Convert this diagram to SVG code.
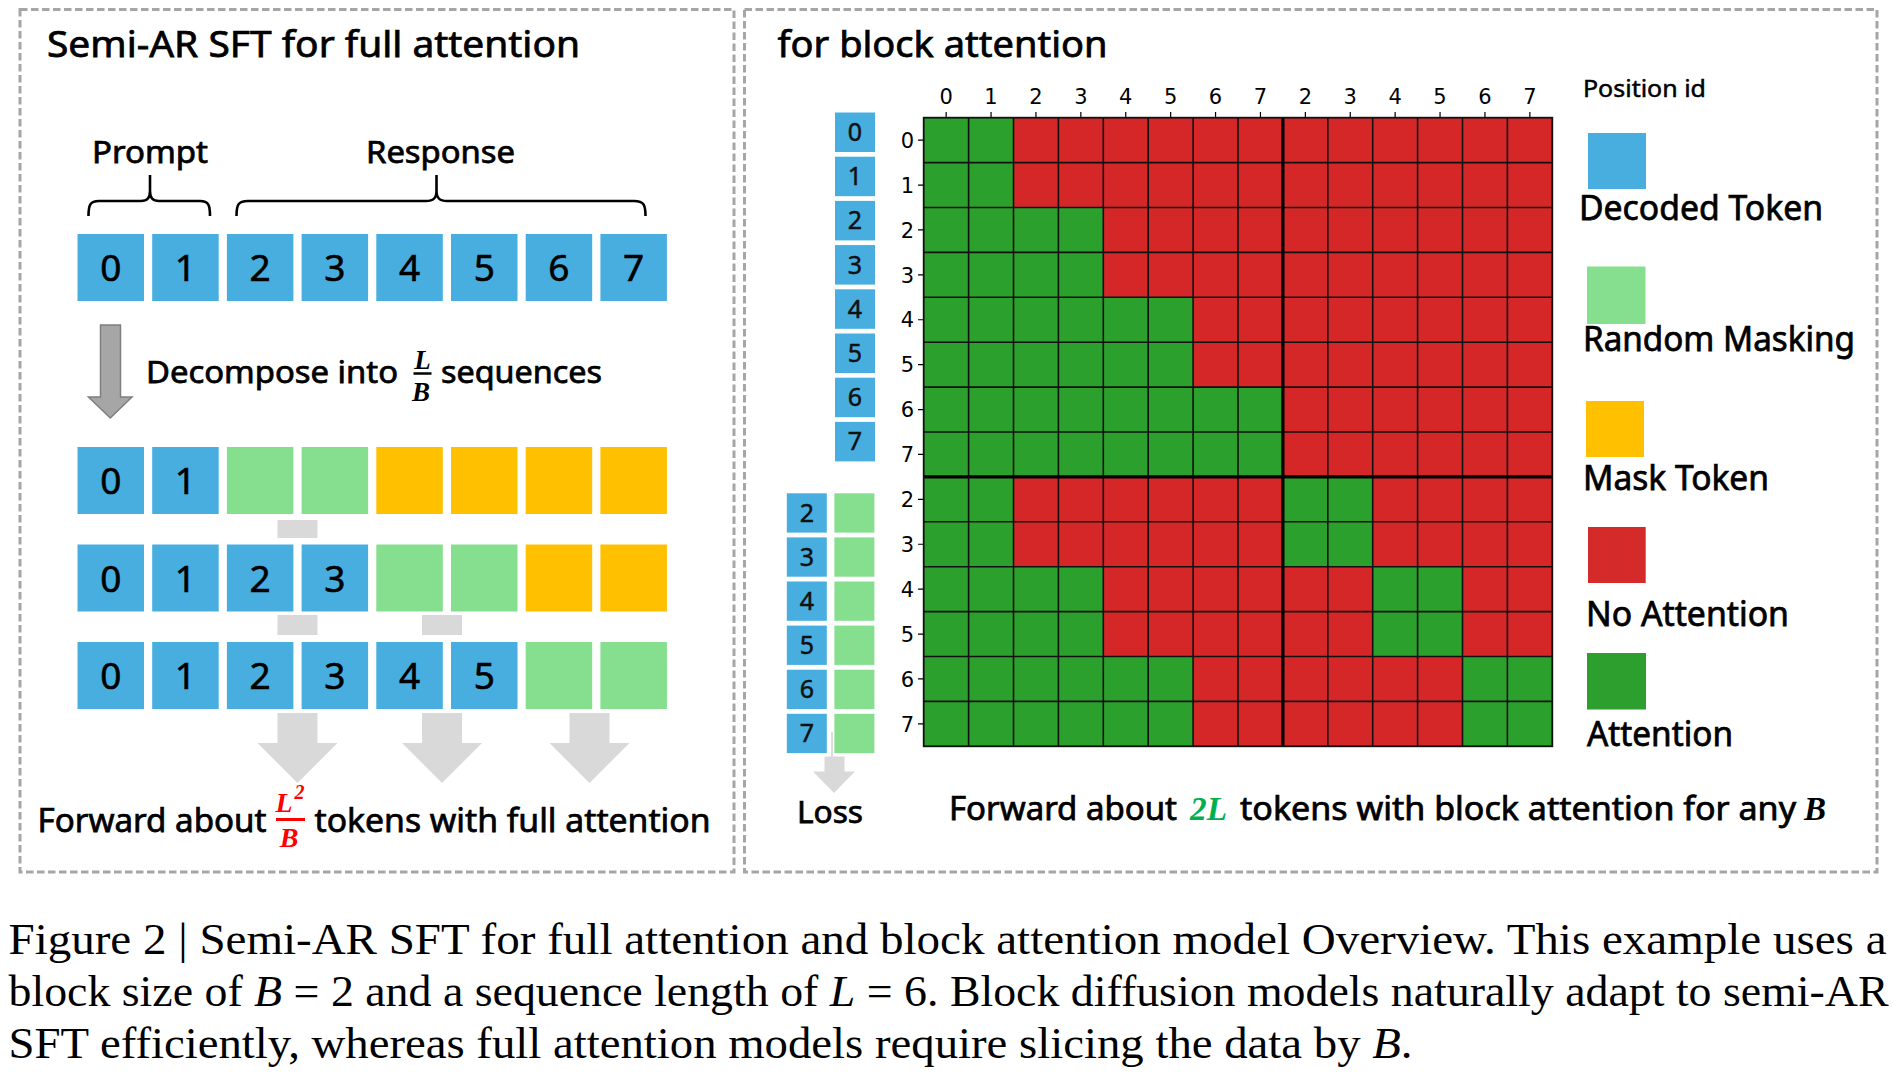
<svg xmlns="http://www.w3.org/2000/svg" width="1893" height="1076" viewBox="0 0 1893 1076">
<style>
.panel{fill:none;stroke:#A6A6A6;stroke-width:3;stroke-dasharray:7.5 3.5}
.tb{fill:#48AEDF}
.tg{fill:#86DF8E}
.to{fill:#FFC000}
.gy{fill:#D9D9D9}
.sans{font-family:"Noto Sans","Open Sans","Liberation Sans",sans-serif;fill:#000;stroke:#000;stroke-width:0.75}
.dig{font-family:"Noto Sans","Open Sans","Liberation Sans",sans-serif;font-size:37px;text-anchor:middle;fill:#000;stroke:#000;stroke-width:0.6}
.sdig{font-family:"Noto Sans","Open Sans","Liberation Sans",sans-serif;font-size:25px;text-anchor:middle;fill:#111;stroke:#111;stroke-width:0.5}
.tick{font-family:"DejaVu Sans",sans-serif;font-size:21px;fill:#000}
.math{font-family:"Liberation Serif","DejaVu Serif",serif;font-style:italic;font-weight:bold}
.cap{font-family:"Liberation Serif","DejaVu Serif",serif;font-size:45px;fill:#000}
.red{fill:#D62728}
.grn{fill:#2CA02C}
</style>

<!-- panels -->
<g id="panel-left"><rect class="panel" x="20" y="9.5" width="714" height="862.5"/></g>
<g id="panel-right"><rect class="panel" x="744.5" y="9.5" width="1132.5" height="862.5"/></g>

<!-- titles -->
<g id="title-left"><text class="sans" x="47" y="57" font-size="37" textLength="533" lengthAdjust="spacingAndGlyphs">Semi-AR SFT for full attention</text></g>
<g id="title-right"><text class="sans" x="777.5" y="57" font-size="37" textLength="330" lengthAdjust="spacingAndGlyphs">for block attention</text></g>

<g id="label-prompt"><text class="sans" x="92" y="163" font-size="31" textLength="116" lengthAdjust="spacingAndGlyphs">Prompt</text></g>
<g id="label-response"><text class="sans" x="366" y="163" font-size="31" textLength="149" lengthAdjust="spacingAndGlyphs">Response</text></g>

<!-- token row 1 -->
<g id="seq-full">
<g id="r1-0"><rect class="tb" x="77.5" y="234" width="66.5" height="67"/><text class="dig" x="110.75" y="281">0</text></g>
<g id="r1-1"><rect class="tb" x="152.2" y="234" width="66.5" height="67"/><text class="dig" x="185.45" y="281">1</text></g>
<g id="r1-2"><rect class="tb" x="226.9" y="234" width="66.5" height="67"/><text class="dig" x="260.15" y="281">2</text></g>
<g id="r1-3"><rect class="tb" x="301.6" y="234" width="66.5" height="67"/><text class="dig" x="334.85" y="281">3</text></g>
<g id="r1-4"><rect class="tb" x="376.3" y="234" width="66.5" height="67"/><text class="dig" x="409.55" y="281">4</text></g>
<g id="r1-5"><rect class="tb" x="451" y="234" width="66.5" height="67"/><text class="dig" x="484.25" y="281">5</text></g>
<g id="r1-6"><rect class="tb" x="525.7" y="234" width="66.5" height="67"/><text class="dig" x="558.95" y="281">6</text></g>
<g id="r1-7"><rect class="tb" x="600.4" y="234" width="66.5" height="67"/><text class="dig" x="633.65" y="281">7</text></g>
</g>

<g id="label-decompose">
<text class="sans" x="146" y="383" font-size="31" textLength="252" lengthAdjust="spacingAndGlyphs">Decompose into</text>
<text class="math" x="422.5" y="368.5" font-size="27" text-anchor="middle">L</text>
<line x1="413.5" y1="373.5" x2="431.5" y2="373.5" stroke="#000" stroke-width="2.5"/>
<text class="math" x="421" y="400.5" font-size="27" text-anchor="middle">B</text>
<text class="sans" x="441" y="383" font-size="31" textLength="161" lengthAdjust="spacingAndGlyphs">sequences</text>
</g>

<!-- decomposed rows -->
<g id="seq-a">
<g id="r2-0"><rect class="tb" x="77.5" y="447" width="66.5" height="67"/><text class="dig" x="110.75" y="494">0</text></g>
<g id="r2-1"><rect class="tb" x="152.2" y="447" width="66.5" height="67"/><text class="dig" x="185.45" y="494">1</text></g>
<g id="r2-2"><rect class="tg" x="226.9" y="447" width="66.5" height="67"/></g>
<g id="r2-3"><rect class="tg" x="301.6" y="447" width="66.5" height="67"/></g>
<g id="r2-4"><rect class="to" x="376.3" y="447" width="66.5" height="67"/></g>
<g id="r2-5"><rect class="to" x="451" y="447" width="66.5" height="67"/></g>
<g id="r2-6"><rect class="to" x="525.7" y="447" width="66.5" height="67"/></g>
<g id="r2-7"><rect class="to" x="600.4" y="447" width="66.5" height="67"/></g>
</g>
<g id="seq-b">
<g id="r3-0"><rect class="tb" x="77.5" y="544.5" width="66.5" height="67"/><text class="dig" x="110.75" y="591.5">0</text></g>
<g id="r3-1"><rect class="tb" x="152.2" y="544.5" width="66.5" height="67"/><text class="dig" x="185.45" y="591.5">1</text></g>
<g id="r3-2"><rect class="tb" x="226.9" y="544.5" width="66.5" height="67"/><text class="dig" x="260.15" y="591.5">2</text></g>
<g id="r3-3"><rect class="tb" x="301.6" y="544.5" width="66.5" height="67"/><text class="dig" x="334.85" y="591.5">3</text></g>
<g id="r3-4"><rect class="tg" x="376.3" y="544.5" width="66.5" height="67"/></g>
<g id="r3-5"><rect class="tg" x="451" y="544.5" width="66.5" height="67"/></g>
<g id="r3-6"><rect class="to" x="525.7" y="544.5" width="66.5" height="67"/></g>
<g id="r3-7"><rect class="to" x="600.4" y="544.5" width="66.5" height="67"/></g>
</g>
<g id="seq-c">
<g id="r4-0"><rect class="tb" x="77.5" y="642" width="66.5" height="67"/><text class="dig" x="110.75" y="689">0</text></g>
<g id="r4-1"><rect class="tb" x="152.2" y="642" width="66.5" height="67"/><text class="dig" x="185.45" y="689">1</text></g>
<g id="r4-2"><rect class="tb" x="226.9" y="642" width="66.5" height="67"/><text class="dig" x="260.15" y="689">2</text></g>
<g id="r4-3"><rect class="tb" x="301.6" y="642" width="66.5" height="67"/><text class="dig" x="334.85" y="689">3</text></g>
<g id="r4-4"><rect class="tb" x="376.3" y="642" width="66.5" height="67"/><text class="dig" x="409.55" y="689">4</text></g>
<g id="r4-5"><rect class="tb" x="451" y="642" width="66.5" height="67"/><text class="dig" x="484.25" y="689">5</text></g>
<g id="r4-6"><rect class="tg" x="525.7" y="642" width="66.5" height="67"/></g>
<g id="r4-7"><rect class="tg" x="600.4" y="642" width="66.5" height="67"/></g>
</g>

<g id="label-forward-left">
<text class="sans" x="37.5" y="832" font-size="33" textLength="229" lengthAdjust="spacingAndGlyphs">Forward about</text>
<text class="math" x="284" y="812" font-size="28" text-anchor="middle" fill="#FF0000">L</text>
<text class="math" x="299.5" y="799" font-size="20" text-anchor="middle" fill="#FF0000" font-style="normal">2</text>
<line x1="276" y1="819.5" x2="305" y2="819.5" stroke="#FF0000" stroke-width="3"/>
<text class="math" x="289" y="847" font-size="28" text-anchor="middle" fill="#FF0000">B</text>
<text class="sans" x="314.5" y="832" font-size="33" textLength="396" lengthAdjust="spacingAndGlyphs">tokens with full attention</text>
</g>

<!-- right panel: query tokens -->
<g id="query-tokens">
<g id="q-0"><rect class="tb" x="835" y="112.5" width="40" height="39.5"/><text class="sdig" x="855" y="141">0</text></g>
<g id="q-1"><rect class="tb" x="835" y="156.7" width="40" height="39.5"/><text class="sdig" x="855" y="185.2">1</text></g>
<g id="q-2"><rect class="tb" x="835" y="200.9" width="40" height="39.5"/><text class="sdig" x="855" y="229.4">2</text></g>
<g id="q-3"><rect class="tb" x="835" y="245.1" width="40" height="39.5"/><text class="sdig" x="855" y="273.6">3</text></g>
<g id="q-4"><rect class="tb" x="835" y="289.3" width="40" height="39.5"/><text class="sdig" x="855" y="317.8">4</text></g>
<g id="q-5"><rect class="tb" x="835" y="333.5" width="40" height="39.5"/><text class="sdig" x="855" y="362">5</text></g>
<g id="q-6"><rect class="tb" x="835" y="377.7" width="40" height="39.5"/><text class="sdig" x="855" y="406.2">6</text></g>
<g id="q-7"><rect class="tb" x="835" y="421.9" width="40" height="39.5"/><text class="sdig" x="855" y="450.4">7</text></g>
</g>
<g id="noisy-tokens">
<g id="n-2"><rect class="tb" x="786.8" y="493.3" width="40" height="39.3"/><rect class="tg" x="834.4" y="493.3" width="40" height="39.3"/><text class="sdig" x="806.8" y="521.7">2</text></g>
<g id="n-3"><rect class="tb" x="786.8" y="537.4" width="40" height="39.3"/><rect class="tg" x="834.4" y="537.4" width="40" height="39.3"/><text class="sdig" x="806.8" y="565.8">3</text></g>
<g id="n-4"><rect class="tb" x="786.8" y="581.5" width="40" height="39.3"/><rect class="tg" x="834.4" y="581.5" width="40" height="39.3"/><text class="sdig" x="806.8" y="609.9">4</text></g>
<g id="n-5"><rect class="tb" x="786.8" y="625.6" width="40" height="39.3"/><rect class="tg" x="834.4" y="625.6" width="40" height="39.3"/><text class="sdig" x="806.8" y="654">5</text></g>
<g id="n-6"><rect class="tb" x="786.8" y="669.7" width="40" height="39.3"/><rect class="tg" x="834.4" y="669.7" width="40" height="39.3"/><text class="sdig" x="806.8" y="698.1">6</text></g>
<g id="n-7"><rect class="tb" x="786.8" y="713.8" width="40" height="39.3"/><rect class="tg" x="834.4" y="713.8" width="40" height="39.3"/><text class="sdig" x="806.8" y="742.2">7</text></g>
</g>
<g id="label-loss"><text class="sans" x="797" y="822.7" font-size="31" textLength="66" lengthAdjust="spacingAndGlyphs">Loss</text></g>

<!-- attention mask grid -->
<g id="mask-grid">
<rect class="red" x="923.7" y="117.7" width="628.6" height="628.6"/>
<rect class="grn" x="923.7" y="117.7" width="89.8" height="89.8"/>
<rect class="grn" x="923.7" y="207.5" width="179.6" height="89.8"/>
<rect class="grn" x="923.7" y="297.3" width="269.4" height="89.8"/>
<rect class="grn" x="923.7" y="387.1" width="359.2" height="89.8"/>
<rect class="grn" x="923.7" y="476.9" width="89.8" height="89.8"/>
<rect class="grn" x="1282.9" y="476.9" width="89.8" height="89.8"/>
<rect class="grn" x="923.7" y="566.7" width="179.6" height="89.8"/>
<rect class="grn" x="1372.7" y="566.7" width="89.8" height="89.8"/>
<rect class="grn" x="923.7" y="656.5" width="269.4" height="89.8"/>
<rect class="grn" x="1462.5" y="656.5" width="89.8" height="89.8"/>
<path fill="none" stroke="#111" stroke-width="1.6" d="M923.7 162.6H1552.3M923.7 207.5H1552.3M923.7 252.4H1552.3M923.7 297.3H1552.3M923.7 342.2H1552.3M923.7 387.1H1552.3M923.7 432H1552.3M923.7 521.8H1552.3M923.7 566.7H1552.3M923.7 611.6H1552.3M923.7 656.5H1552.3M923.7 701.4H1552.3M968.6 117.7V746.3M1013.5 117.7V746.3M1058.4 117.7V746.3M1103.3 117.7V746.3M1148.2 117.7V746.3M1193.1 117.7V746.3M1238 117.7V746.3M1327.8 117.7V746.3M1372.7 117.7V746.3M1417.6 117.7V746.3M1462.5 117.7V746.3M1507.4 117.7V746.3"/>
<path fill="none" stroke="#000" stroke-width="3.2" d="M923.7 476.9H1552.3M1282.9 117.7V746.3"/>
<rect x="923.7" y="117.7" width="628.6" height="628.6" fill="none" stroke="#111" stroke-width="1.8"/>
<path fill="none" stroke="#000" stroke-width="1.2" d="M946.15 112V117.7M991.05 112V117.7M1035.95 112V117.7M1080.85 112V117.7M1125.75 112V117.7M1170.65 112V117.7M1215.55 112V117.7M1260.45 112V117.7M1305.35 112V117.7M1350.25 112V117.7M1395.15 112V117.7M1440.05 112V117.7M1484.95 112V117.7M1529.85 112V117.7M918 140.15H923.7M918 185.05H923.7M918 229.95H923.7M918 274.85H923.7M918 319.75H923.7M918 364.65H923.7M918 409.55H923.7M918 454.45H923.7M918 499.35H923.7M918 544.25H923.7M918 589.15H923.7M918 634.05H923.7M918 678.95H923.7M918 723.85H923.7"/>
<g class="tick" text-anchor="middle">
<text x="946.15" y="103.5">0</text><text x="991.05" y="103.5">1</text><text x="1035.95" y="103.5">2</text><text x="1080.85" y="103.5">3</text><text x="1125.75" y="103.5">4</text><text x="1170.65" y="103.5">5</text><text x="1215.55" y="103.5">6</text><text x="1260.45" y="103.5">7</text><text x="1305.35" y="103.5">2</text><text x="1350.25" y="103.5">3</text><text x="1395.15" y="103.5">4</text><text x="1440.05" y="103.5">5</text><text x="1484.95" y="103.5">6</text><text x="1529.85" y="103.5">7</text>
</g>
<g class="tick" text-anchor="end">
<text x="914" y="147.8">0</text><text x="914" y="192.7">1</text><text x="914" y="237.6">2</text><text x="914" y="282.5">3</text><text x="914" y="327.4">4</text><text x="914" y="372.3">5</text><text x="914" y="417.2">6</text><text x="914" y="462.1">7</text><text x="914" y="507">2</text><text x="914" y="551.9">3</text><text x="914" y="596.8">4</text><text x="914" y="641.7">5</text><text x="914" y="686.6">6</text><text x="914" y="731.5">7</text>
</g>
</g>

<g id="label-forward-right">
<text class="sans" x="949" y="820" font-size="32" textLength="228" lengthAdjust="spacingAndGlyphs">Forward about</text>
<text class="math" x="1190" y="820" font-size="33" fill="#00B050" textLength="37" lengthAdjust="spacingAndGlyphs">2L</text>
<text class="sans" x="1240" y="820" font-size="32" textLength="556" lengthAdjust="spacingAndGlyphs">tokens with block attention for any</text>
<text class="math" x="1804" y="820" font-size="33" fill="#000">B</text>
</g>

<!-- legend -->
<g id="legend">
<g id="legend-title"><text class="sans" x="1583" y="96.5" font-size="24" textLength="123" lengthAdjust="spacingAndGlyphs" style="stroke-width:0.5">Position id</text></g>
<g id="legend-decoded"><rect class="tb" x="1588" y="133" width="58" height="56"/><text class="sans" x="1579" y="220" font-size="34" textLength="244" lengthAdjust="spacingAndGlyphs">Decoded Token</text></g>
<g id="legend-random"><rect class="tg" x="1587" y="266.5" width="58.5" height="57.5"/><text class="sans" x="1583" y="350.5" font-size="34" textLength="272" lengthAdjust="spacingAndGlyphs">Random Masking</text></g>
<g id="legend-mask"><rect class="to" x="1586" y="401" width="58" height="56"/><text class="sans" x="1583" y="489.6" font-size="34" textLength="186" lengthAdjust="spacingAndGlyphs">Mask Token</text></g>
<g id="legend-noattn"><rect x="1588" y="527" width="57.7" height="56" fill="#D42A2A"/><text class="sans" x="1586" y="625.5" font-size="34" textLength="203" lengthAdjust="spacingAndGlyphs">No Attention</text></g>
<g id="legend-attn"><rect x="1587" y="653" width="59" height="56.5" fill="#2C9F2E"/><text class="sans" x="1587" y="746" font-size="34" textLength="146" lengthAdjust="spacingAndGlyphs">Attention</text></g>
</g>

<!-- connectors -->
<g id="connectors">
<path fill="none" stroke="#000" stroke-width="2.6" d="M88.5 216C88.5 205 90 201 99 201L141 201C147.5 201 150 198 150 191L150 175M150 191C150 198 152.5 201 159 201L200 201C208.5 201 210 205 210 216"/>
<path fill="none" stroke="#000" stroke-width="2.6" d="M236.5 216C236.5 205 238 201 248 201L426 201C433.5 201 436.5 198 436.5 191L436.5 175M436.5 191C436.5 198 439.5 201 447 201L634 201C644 201 645.5 205 645.5 216"/>
<polygon points="100.5,325 120.5,325 120.5,397 132,397 110.3,418 88.5,397 100.5,397" fill="#A6A6A6" stroke="#7F7F7F" stroke-width="1.5"/>
<rect class="gy" x="277.5" y="520" width="40" height="18"/>
<rect class="gy" x="277.5" y="615" width="40" height="20"/>
<rect class="gy" x="422" y="615" width="40" height="20"/>
<polygon class="gy" points="277.5,713 317.5,713 317.5,743 337.5,743 297.5,783 257.5,743 277.5,743"/>
<polygon class="gy" points="422,713 462,713 462,743 482,743 442,783 402,743 422,743"/>
<polygon class="gy" points="569.5,713 609.5,713 609.5,743 629.5,743 589.5,783 549.5,743 569.5,743"/>
<line x1="832" y1="732" x2="832" y2="757" stroke="#C8C8C8" stroke-width="1.2"/>
<polygon class="gy" points="824.5,756.5 844.5,756.5 844.5,771.5 855,771.5 834,793 813,771.5 824.5,771.5"/>
</g>

<!-- caption -->
<g id="caption">
<text class="cap" x="8.5" y="953.5" textLength="1878" lengthAdjust="spacingAndGlyphs">Figure 2 | Semi-AR SFT for full attention and block attention model Overview. This example uses a</text>
<text class="cap" x="8.5" y="1006" textLength="1880" lengthAdjust="spacingAndGlyphs">block size of <tspan font-style="italic">B</tspan> = 2 and a sequence length of <tspan font-style="italic">L</tspan> = 6. Block diffusion models naturally adapt to semi-AR</text>
<text class="cap" x="8.5" y="1058" textLength="1404" lengthAdjust="spacingAndGlyphs">SFT efficiently, whereas full attention models require slicing the data by <tspan font-style="italic">B</tspan>.</text>
</g>
</svg>
